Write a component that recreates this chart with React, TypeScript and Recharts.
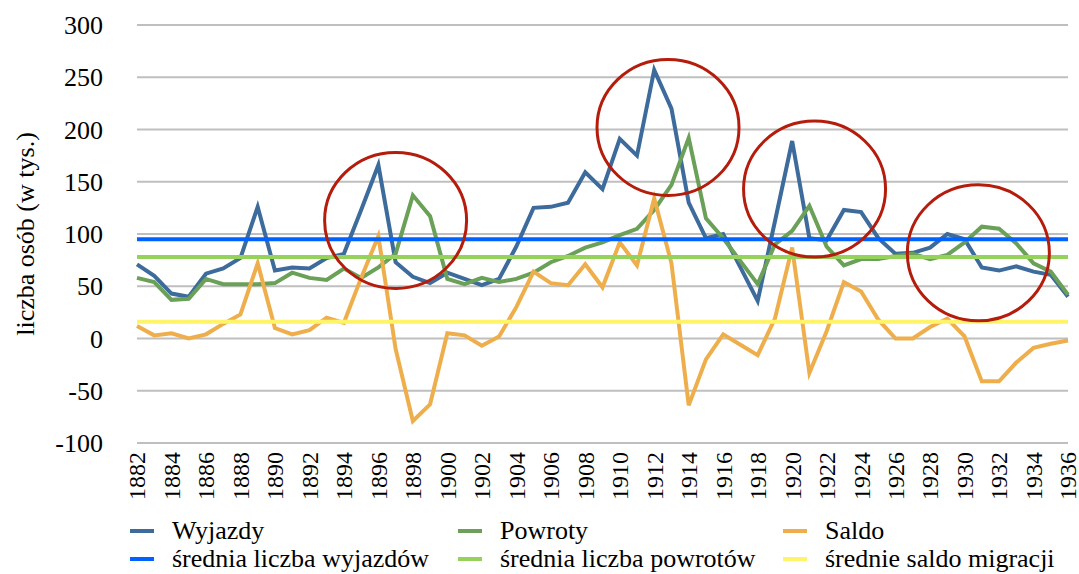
import React from "react";
import { LineChart, Line, XAxis, YAxis, CartesianGrid, Legend, ReferenceLine, ReferenceDot } from "recharts";

const years = [1882,1883,1884,1885,1886,1887,1888,1889,1890,1891,1892,1893,1894,1895,1896,1897,1898,1899,1900,1901,1902,1903,1904,1905,1906,1907,1908,1909,1910,1911,1912,1913,1914,1915,1916,1917,1918,1919,1920,1921,1922,1923,1924,1925,1926,1927,1928,1929,1930,1931,1932,1933,1934,1935,1936];
const wyjazdy = [71,60,43,40,62,67,77,126,65,68,67,77,81,123,166,73,59,53,63,57,51,57,88,125,126,130,159,143,191,175,257,220,130,96,100,68,36,112,189,96,94,123,121,96,81,82,87,100,95,68,65,69,64,61,40];
const powroty = [58,54,37,38,57,52,52,52,53,63,58,56,67,58,68,81,137,117,57,52,58,54,57,63,73,79,87,92,99,105,123,147,192,115,96,74,52,90,103,127,88,70,76,76,79,81,76,80,92,107,105,91,72,64,42];
const saldo = [12,3,5,0,4,14,23,72,10,4,8,20,15,58,98,-10,-79,-63,5,3,-7,2,30,64,53,51,71,49,92,70,134,72,-64,-20,4,-6,-16,19,87,-33,7,54,45,18,0,0,11,19,2,-41,-41,-23,-9,-5,-2];
const sredniaWyjazdow = 95;
const sredniaPowrotow = 78;
const srednieSaldo = 16;
const xTicks = [1882,1884,1886,1888,1890,1892,1894,1896,1898,1900,1902,1904,1906,1908,1910,1912,1914,1916,1918,1920,1922,1924,1926,1928,1930,1932,1934,1936];
const yTicks = [-100,-50,0,50,100,150,200,250,300];
const circles = [
  { x: 1897, y: 113 },
  { x: 1912.8, y: 202 },
  { x: 1921.3, y: 143 },
  { x: 1930.8, y: 82 },
];

const data = years.map((y, i) => ({ year: y, wyjazdy: wyjazdy[i], powroty: powroty[i], saldo: saldo[i] }));

const FONT = "'Liberation Serif', Tinos, 'Times New Roman', serif";
const C_W = "#3d6b9b";
const C_P = "#6aa058";
const C_S = "#efae4c";
const C_AW = "#0062ff";
const C_AP = "#95d25c";
const C_AS = "#fff36a";

const legendItems = [
  { name: "Wyjazdy", color: C_W },
  { name: "Powroty", color: C_P },
  { name: "Saldo", color: C_S },
  { name: "średnia liczba wyjazdów", color: C_AW },
  { name: "średnia liczba powrotów", color: C_AP },
  { name: "średnie saldo migracji", color: C_AS },
];
const colX = [130, 458, 783];

const LegendContent = () => (
  <div style={{ position: "relative", width: 1068, height: 62, fontFamily: FONT, fontSize: 26, color: "#000" }}>
    {legendItems.map((it, i) => (
      <div key={it.name} style={{ position: "absolute", left: colX[i % 3], top: 5 + Math.floor(i / 3) * 28, height: 28, display: "flex", alignItems: "center", whiteSpace: "nowrap" }}>
        <span style={{ display: "inline-block", width: 24, height: 4, background: it.color, marginRight: 18 }} />
        <span style={{ lineHeight: "28px" }}>{it.name}</span>
      </div>
    ))}
  </div>
);

const XTick = (props: any) => {
  const { x, y, payload } = props;
  return (
    <g transform={`translate(${x},${y})`}>
      <text transform="rotate(-90)" textAnchor="end" dy="0.35em" fontSize={24} style={{ fontFamily: FONT }} fill="#000">
        {payload.value}
      </text>
    </g>
  );
};

const YLabel = (props: any) => {
  const vb = props.viewBox || { x: 0, y: 25, width: 137, height: 418 };
  const cx = vb.x + 25;
  const cy = vb.y + vb.height / 2;
  return (
    <text x={cx} y={cy} transform={`rotate(-90, ${cx}, ${cy})`} textAnchor="middle" dominantBaseline="central" fontSize={26} style={{ fontFamily: FONT }} fill="#000">
      liczba osób (w tys.)
    </text>
  );
};

const Ellipse = (props: any) => (
  <ellipse cx={props.cx} cy={props.cy} rx={71} ry={68} fill="none" stroke="#b41c0c" strokeWidth={3} />
);

export default function App() {
  return (
    <div style={{ position: "absolute", left: 0, top: 0, width: 1079, height: 574, background: "#fff", fontFamily: FONT }}>
      <LineChart width={1079} height={574} data={data} margin={{ top: 25, right: 11, left: 0, bottom: 0 }} style={{ fontFamily: FONT }}>
        <CartesianGrid horizontal vertical={false} stroke="#bfbfbf" strokeWidth={2} />
        <XAxis
          dataKey="year"
          type="number"
          domain={[1882, 1936]}
          ticks={xTicks}
          interval={0}
          axisLine={false}
          tickLine={false}
          tickSize={0}
          tickMargin={9}
          height={69}
          tick={<XTick />}
        />
        <YAxis
          type="number"
          domain={[-100, 300]}
          ticks={yTicks}
          interval={0}
          axisLine={false}
          tickLine={false}
          tickSize={0}
          tickMargin={34}
          width={137}
          tick={{ fontSize: 26, fill: "#000", style: { fontFamily: FONT } }}
          label={<YLabel />}
        />
        <Legend verticalAlign="bottom" content={<LegendContent />} wrapperStyle={{ left: 0 }} />
        <Line type="linear" dataKey="wyjazdy" name="Wyjazdy" stroke={C_W} strokeWidth={4} dot={false} isAnimationActive={false} />
        <Line type="linear" dataKey="powroty" name="Powroty" stroke={C_P} strokeWidth={4} dot={false} isAnimationActive={false} />
        <Line type="linear" dataKey="saldo" name="Saldo" stroke={C_S} strokeWidth={4} dot={false} isAnimationActive={false} />
        <ReferenceLine y={sredniaWyjazdow} stroke={C_AW} strokeWidth={4} />
        <ReferenceLine y={sredniaPowrotow} stroke={C_AP} strokeWidth={4} />
        <ReferenceLine y={srednieSaldo} stroke={C_AS} strokeWidth={4} />
        {circles.map((c, i) => (
          <ReferenceDot key={i} x={c.x} y={c.y} r={70} shape={<Ellipse />} ifOverflow="visible" />
        ))}
      </LineChart>
    </div>
  );
}
